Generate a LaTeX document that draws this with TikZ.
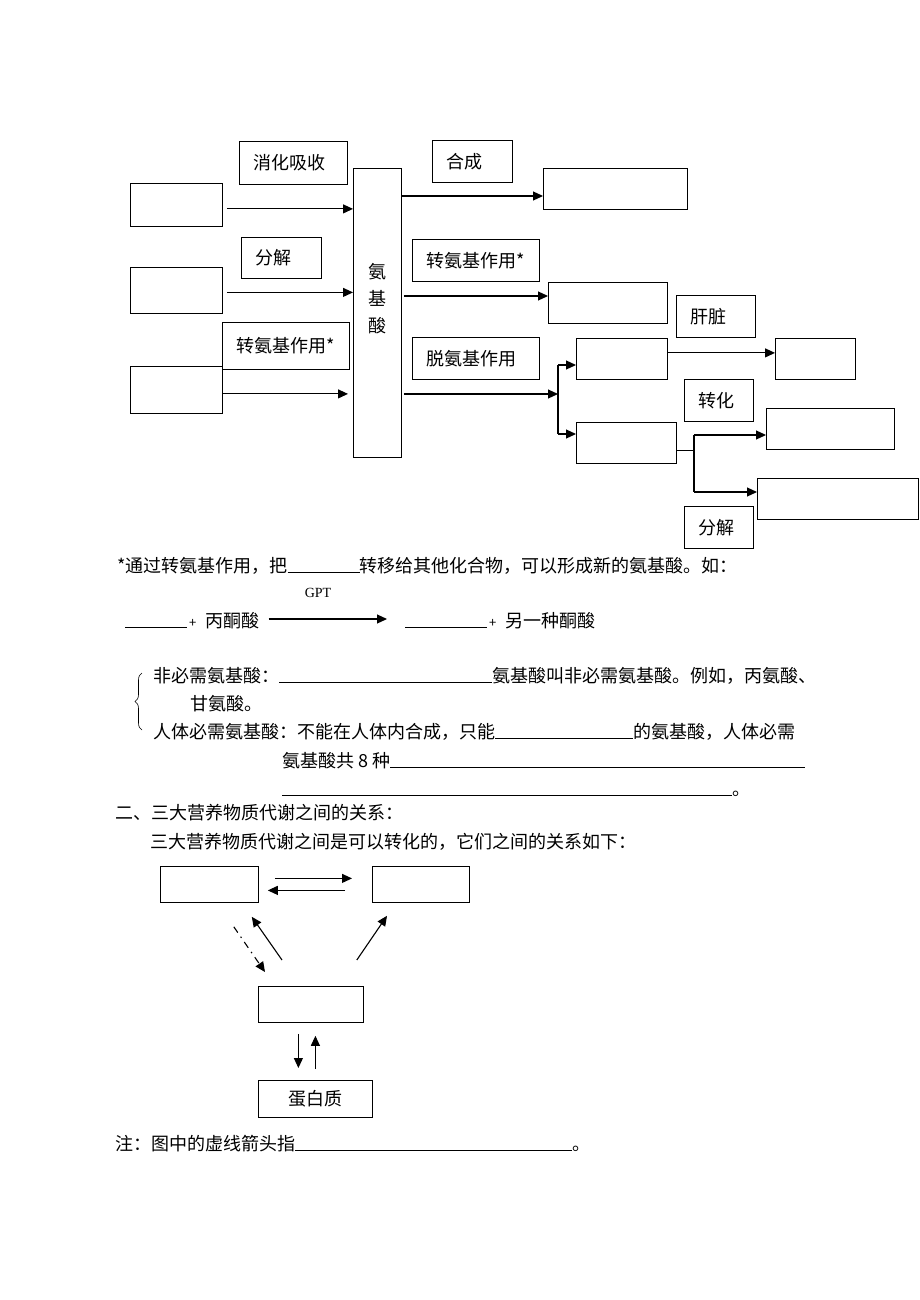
\documentclass[tikz,border=0pt]{standalone}
\usepackage{fontspec}
\setmainfont{Liberation Serif}
\newfontfamily\cjk{Noto Sans CJK SC}
\usetikzlibrary{arrows.meta, calc, decorations.pathreplacing}
\newcommand{\fillin}[1]{\rule[-1pt]{#1}{0.6pt}}
\tikzset{
  box/.style 2 args={draw, line width=0.8pt, anchor=north west, minimum width=#1, minimum height=#2, inner sep=0pt},
  tag/.style 2 args={draw, line width=0.8pt, anchor=north west, inner xsep=14pt, inner ysep=0pt, text width=#1, minimum height=#2, align=left},
  arr/.style={line width=1.1pt, -{Triangle[length=10pt, width=9pt]}},
  txt/.style={anchor=base west, inner sep=0pt},
}

\begin{document}
\begin{tikzpicture}[x=1pt, y=-1pt, font=\cjk\fontsize{18}{22}\selectfont]
\useasboundingbox (0,0) rectangle (920,1300);

% amino acid pool
\node[box={48pt}{289pt}] (aa) at (353,168) {};
\node[align=center, font=\cjk\fontsize{18}{27}\selectfont] (aatext) at (377,299) {氨\\基\\酸};

\node[box={92pt}{43pt}] (L1) at (130,183) {};
\node[box={92pt}{46pt}] (L2) at (130,267) {};
\node[box={92pt}{47pt}] (L3) at (130,366) {};
\node[tag={80pt}{43pt}] (lab1) at (239,141) {消化吸收};
\node[tag={52pt}{41pt}] (lab2) at (241,237) {分解};
\node[tag={99pt}{47pt}] (lab3) at (222,322) {转氨基作用*};

\draw[arr, shorten <=4pt] ([yshift=-4pt]L1.east) -- ([yshift=-4pt]L1.east -| aa.west);
\draw[arr, shorten <=4pt] ([yshift=-2pt]L2.east) -- ([yshift=-2pt]L2.east -| aa.west);
\draw[arr, shorten >=5pt] ([yshift=-4pt]L3.east) -- ([yshift=-4pt]L3.east -| aa.west);

\node[box={144pt}{41pt}] (R1) at (543,168) {};
\node[box={119pt}{41pt}] (R2) at (548,282) {};
\node[box={91pt}{41pt}] (R3) at (576,338) {};
\node[box={100pt}{41pt}] (R4) at (576,422) {};
\node[box={80pt}{41pt}] (R5) at (775,338) {};
\node[box={128pt}{41pt}] (R6) at (766,408) {};
\node[box={161pt}{41pt}] (R7) at (757,478) {};

\node[tag={52pt}{42pt}] (lab4) at (432,140) {合成};
\node[tag={99pt}{42pt}] (lab5) at (412,239) {转氨基作用*};
\node[tag={99pt}{42pt}] (lab6) at (412,337) {脱氨基作用};
\node[tag={51pt}{42pt}] (lab7) at (676,295) {肝脏};
\node[tag={41pt}{42pt}] (lab8) at (684,379) {转化};
\node[tag={41pt}{42pt}] (lab9) at (684,506) {分解};

\draw[arr] (aa.east |- 0,196) -- (R1.west |- 0,196);
\draw[arr, shorten <=2pt] (aa.east |- 0,296) -- (R2.west |- 0,296);

\coordinate (bt) at (558,365);
\coordinate (bb) at (558,434);
\draw[arr, shorten <=2pt] (aa.east |- 0,394) -- (bt |- 0,394);
\draw[line width=1.1pt] (bt) -- (bb);
\draw[arr] (bt) -- (bt -| R3.west);
\draw[arr] (bb) -- (bb -| R4.west);
\draw[arr] ([yshift=6pt]R3.east) -- ([yshift=6pt]R5.west);

\coordinate (ct) at (694,435);
\coordinate (cb) at (694,492);
\draw[line width=1.1pt] ([yshift=-8pt]R4.east) -- ([yshift=-8pt]R4.east -| ct);
\draw[line width=1.1pt] (ct) -- (cb);
\draw[arr] (ct) -- (ct -| R6.west);
\draw[arr] (cb) -- (cb -| R7.west);

% notes
\node[txt] (note1) at (117,572) {*通过转氨基作用，把\fillin{72pt}转移给其他化合物，可以形成新的氨基酸。如：};
\node[txt] (eqL) at (125,627) {\fillin{62pt}\hspace{2pt}{\fontsize{13}{14}\selectfont +}\hspace{9pt}丙酮酸};
\node[txt] (eqR) at (405,627) {\fillin{82pt}\hspace{2pt}{\fontsize{13}{14}\selectfont +}\hspace{9pt}另一种酮酸};
\draw[arr] ([xshift=9pt]eqL.east |- 0,619) -- ([xshift=-18pt]eqR.west |- 0,619);
\node[font=\rmfamily\fontsize{14}{16}\selectfont] (gpt) at (318,593) {GPT};

\draw[decorate, decoration={brace, amplitude=7pt}, line width=0.6pt] (142,730) -- (142,673);
\node[txt] (nonEss) at (153,682) {非必需氨基酸：\fillin{213pt}氨基酸叫非必需氨基酸。例如，丙氨酸、};
\node[txt] (nonEss2) at (190,710) {甘氨酸。};
\node[txt] (ess) at (153,738) {人体必需氨基酸：不能在人体内合成，只能\fillin{138pt}的氨基酸，人体必需};
\node[txt] (ess2) at (282,767) {氨基酸共 8 种\fillin{415pt}};
\node[txt] (ess3) at (282,795) {\fillin{450pt}。};

\node[txt] (sec2) at (115,819) {二、三大营养物质代谢之间的关系：};
\node[txt] (sec2b) at (150,848) {三大营养物质代谢之间是可以转化的，它们之间的关系如下：};

% three nutrients
\node[box={98pt}{36pt}] (B1) at (160,866) {};
\node[box={97pt}{36pt}] (B2) at (372,866) {};
\node[box={105pt}{36pt}] (B3) at (258,986) {};
\node[box={114pt}{37pt}] (B4) at (258,1080) {蛋白质};

\draw[arr, shorten <=16pt, shorten >=20pt] ([yshift=6pt]B1.east) -- ([yshift=6pt]B2.west);
\draw[arr, shorten <=27pt, shorten >=9pt] ([yshift=-6pt]B2.west) -- ([yshift=-6pt]B1.east);
\draw[arr, dash pattern=on 7pt off 5pt on 1.5pt off 5pt] ($(B1.south east)+(-25,24)$) -- ($(B3.north west)+(7,-14)$);
\draw[arr] ($(B3.north west)+(24,-26)$) -- ($(B1.south east)+(-7,14)$);
\draw[arr] ($(B3.north east)+(-7,-26)$) -- ($(B2.south west)+(15,13)$);
\draw[arr] ($(B3.south)+(-12.5,11)$) -- ($(B4.north)+(-17,-12)$);
\draw[arr] ($(B4.north)+(0,-11)$) -- ($(B3.south)+(4.5,13)$);

\node[txt] (note2) at (115,1150) {注：图中的虚线箭头指\fillin{277pt}。};
\end{tikzpicture}
\end{document}
